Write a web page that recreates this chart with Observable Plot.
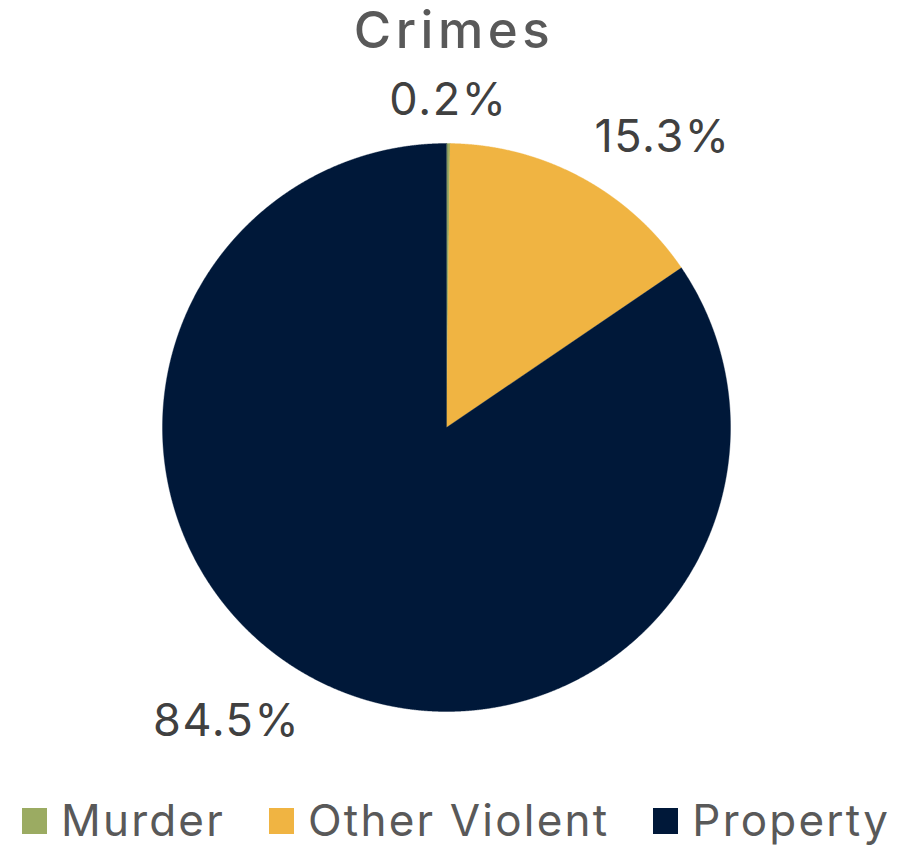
<!DOCTYPE html>
<html>
<head>
<meta charset="utf-8">
<script src="https://cdn.jsdelivr.net/npm/d3@7"></script>
<script src="https://cdn.jsdelivr.net/npm/@observablehq/plot@0.6"></script>
<style>
  html, body { margin: 0; padding: 0; background: #fff; }
  body { width: 904px; height: 847px; font-family: Inter, "Noto Sans", sans-serif; overflow: hidden; }
  #title { height: 60px; line-height: 60px; text-align: center; font-size: 51px; font-weight: 500; color: #595959; letter-spacing: 4.5px; padding-left: 4px; }
  #chart svg { display: block; }
  #legend { height: 44px; line-height: 44px; padding-top: 8px; text-align: center; font-size: 44px; color: #595959; white-space: nowrap; letter-spacing: 2.2px; }
  .item { display: inline-block; margin: 0 22px; }
  .sw { display: inline-block; width: 25px; height: 26px; vertical-align: 2px; margin-right: 14px; }
</style>
</head>
<body>
<div id="title">Crimes</div>
<div id="chart"></div>
<div id="legend"></div>
<script>
const categories = ["Murder", "Other Violent", "Property"];
const values = [0.2, 15.3, 84.5];
const labels = ["0.2%", "15.3%", "84.5%"];
const colors = ["#9BAB62", "#F0B442", "#001839"];

const arcs = d3.pie().sort(null).value(d => d)(values);

// slice outlines computed from the pie angles
const points = [];
arcs.forEach((a, i) => {
  points.push({cat: categories[i], x: 0, y: 0});
  const n = Math.max(2, Math.ceil((a.endAngle - a.startAngle) / 0.002));
  for (let k = 0; k <= n; k++) {
    const t = a.startAngle + (a.endAngle - a.startAngle) * k / n;
    points.push({cat: categories[i], x: Math.sin(t), y: Math.cos(t)});
  }
});

const labelData = arcs.map((a, i) => {
  const m = (a.startAngle + a.endAngle) / 2;
  return {label: labels[i], x: 1.1 * Math.sin(m), y: 1.1 * Math.cos(m), s: Math.sin(m), c: Math.cos(m)};
});

const textMarks = labelData.map(d => Plot.text([d], {
  x: "x", y: "y", text: "label",
  textAnchor: d.s > 0.15 ? "start" : d.s < -0.15 ? "end" : "middle",
  lineAnchor: d.c >= 0 ? "bottom" : "top",
  fontSize: 45, fill: "#404040"
}));

const R = 284, CX = 446, CY = 367;
const chart = Plot.plot({
  width: 904, height: 730,
  margin: 0,
  style: {fontFamily: "Inter, 'Noto Sans', sans-serif", background: "transparent", letterSpacing: "1.6px"},
  x: {domain: [-1, 1], range: [CX - R, CX + R], axis: null},
  y: {domain: [-1, 1], range: [CY + R, CY - R], axis: null},
  color: {domain: categories, range: colors},
  marks: [
    Plot.line(points, {x: "x", y: "y", z: "cat", fill: "cat", stroke: "cat", strokeWidth: 0.4, curve: "linear-closed"}),
    ...textMarks
  ]
});
document.getElementById("chart").appendChild(chart);

const legend = document.getElementById("legend");
categories.forEach((c, i) => {
  const it = document.createElement("span");
  it.className = "item";
  const sw = document.createElement("span");
  sw.className = "sw";
  sw.style.background = colors[i];
  it.appendChild(sw);
  it.appendChild(document.createTextNode(c));
  legend.appendChild(it);
});
</script>
</body>
</html>
